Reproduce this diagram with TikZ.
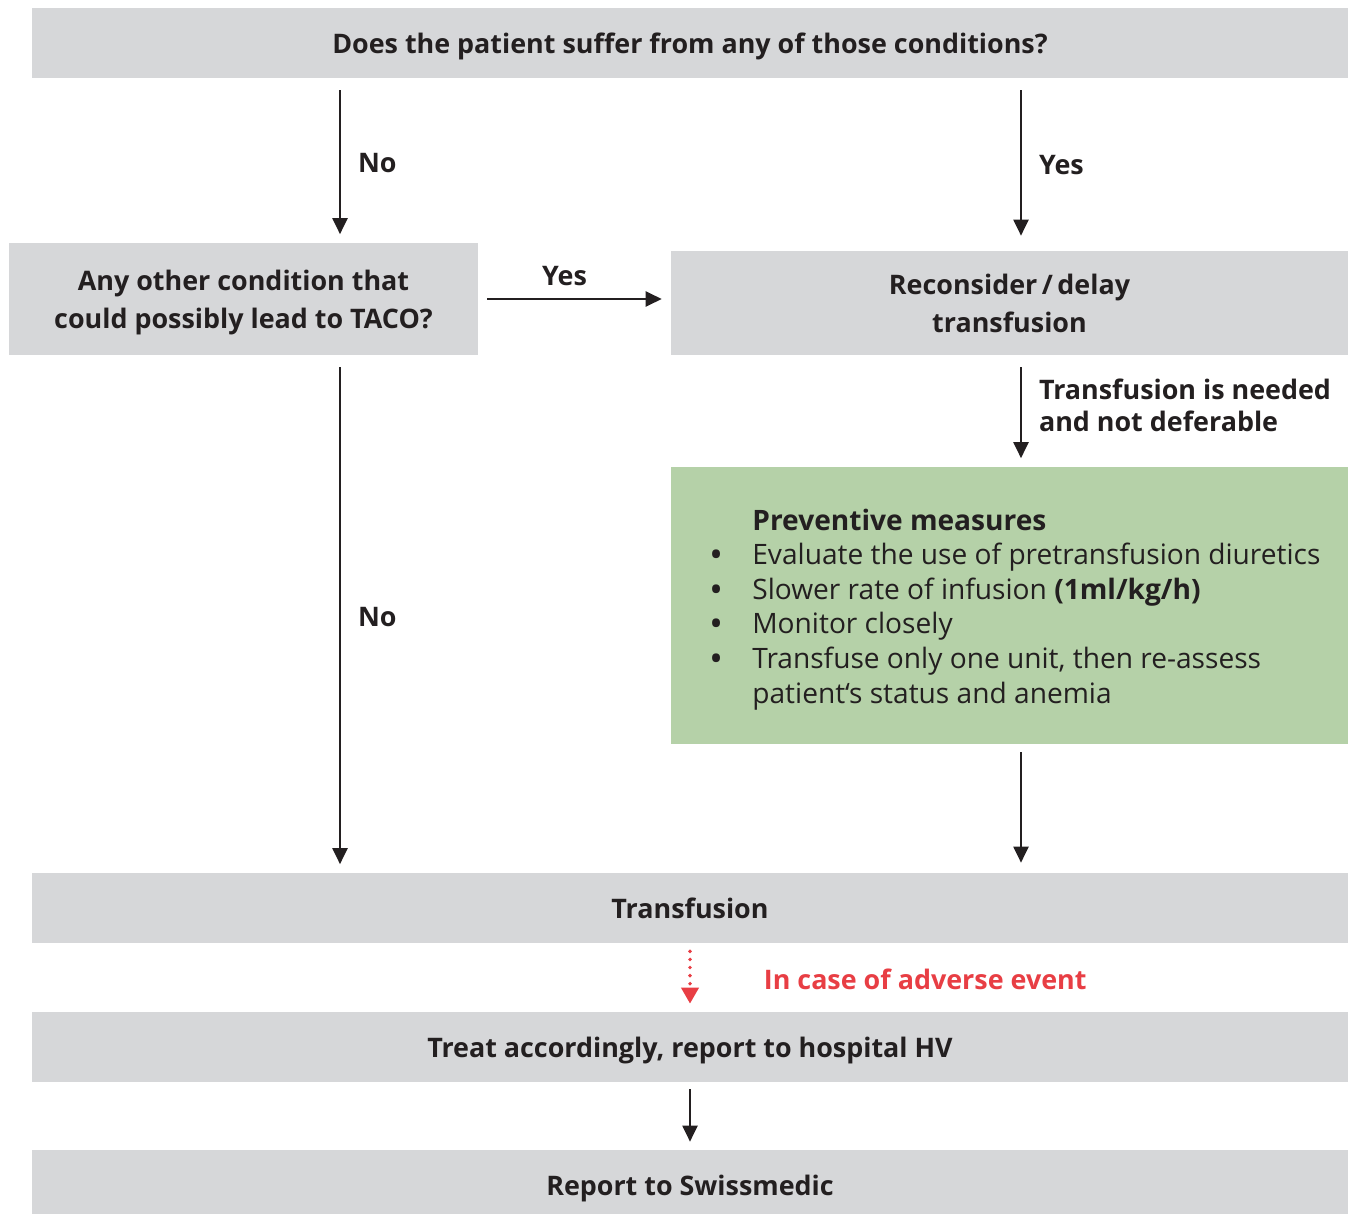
\documentclass[tikz,border=0pt]{standalone}
\usepackage{fontspec}
\setmainfont{Open Sans}
\usetikzlibrary{arrows.meta,positioning}

\definecolor{boxgray}{RGB}{214,215,217}
\definecolor{boxgreen}{RGB}{181,209,168}
\definecolor{txtblack}{RGB}{35,31,32}
\definecolor{alertred}{RGB}{232,62,68}

\newcommand{\bulletmark}{\llap{\textbf{\textbullet}\hspace{0.62cm}}}

\begin{document}
\begin{tikzpicture}[x=0.02cm, y=-0.02cm,
    box/.style={fill=boxgray, inner sep=0pt, align=center, text=txtblack, text depth=0pt,
      font=\fontsize{15.3}{21.4}\selectfont\bfseries},
    widebox/.style={box, minimum width=26.32cm, minimum height=1.4cm},
    gbox/.style={fill=boxgreen, inner sep=0pt, minimum width=13.54cm, minimum height=5.54cm},
    arr/.style={txtblack, line width=1.2pt, -{Triangle[length=0.32cm, width=0.3cm]},
      shorten <=0.24cm, shorten >=0.17cm},
    redarr/.style={alertred, line width=2.2pt, dash pattern=on 0pt off 4.6pt, line cap=round,
      -{Triangle[length=0.32cm, width=0.34cm, line cap=butt]},
      shorten <=0.16cm, shorten >=0.16cm},
    lab/.style={text=txtblack, inner sep=0pt, align=left, text depth=0pt,
      font=\fontsize{15.3}{18.1}\selectfont\bfseries}
  ]
  % Spalten der Pfeile
  \coordinate (lcol) at (340,0);
  \coordinate (rcol) at (1021,0);
  \coordinate (mcol) at (690,0);

  \useasboundingbox (0,0) rectangle (1350,1214);

  % Kaesten
  \node[widebox] (ask) at (690,43) {Does the patient suffer from any of those conditions?};
  \node[box, minimum width=9.38cm, minimum height=2.24cm] (other) at (243.5,299)
    {Any other condition that\\could possibly lead to TACO?};
  \node[box, minimum width=13.54cm, minimum height=2.08cm] (delay) at (1009.5,303)
    {Reconsider\,/\,delay\\transfusion};
  \node[gbox] (prev) at (1009.5,605.5) {};
  \node[anchor=west, inner sep=0pt, align=left, text=txtblack, text depth=0pt,
    font=\fontsize{16}{19.7}\selectfont] (prevtxt) at (752,606)
    {\textbf{Preventive measures}\\
     \bulletmark Evaluate the use of pretransfusion diuretics\\
     \bulletmark Slower rate of infusion \textbf{(1ml/kg/h)}\\
     \bulletmark Monitor closely\\
     \bulletmark Transfuse only one unit, then re-assess\\
     patient‘s status and anemia};
  \node[widebox] (trans) at (690,908) {Transfusion};
  \node[widebox] (treat) at (690,1047) {Treat accordingly, report to hospital HV};
  \node[widebox] (report) at (690,1185) {Report to Swissmedic};

  % Pfeile
  \draw[arr] (ask.south -| lcol) -- node[lab, right=0.34cm, yshift=-0.04cm] {No} (other.north -| lcol);
  \draw[arr, shorten >=0.3cm] (ask.south -| rcol) -- node[lab, right=0.34cm] {Yes} (delay.north -| rcol);
  \draw[arr, shorten <=0.18cm, shorten >=0.18cm] (other.east) -- node[lab, above=0.24cm, xshift=-0.2cm] {Yes}
    (other.east -| delay.west);
  \draw[arr] (other.south -| lcol) -- node[lab, right=0.34cm, yshift=-0.05cm] {No} (trans.north -| lcol);
  \draw[arr] (delay.south -| rcol) -- node[lab, right=0.34cm, yshift=0.12cm]
    {Transfusion is needed\\and not deferable} (prev.north -| rcol);
  \draw[arr, shorten <=0.16cm, shorten >=0.2cm] (prev.south -| rcol) -- (trans.north -| rcol);
  \draw[redarr] (trans.south -| mcol) -- node[lab, text=alertred, right=1.44cm, yshift=-0.03cm] {In case of adverse event}
    (treat.north -| mcol);
  \draw[arr, shorten <=0.14cm, shorten >=0.16cm] (treat.south -| mcol) -- (report.north -| mcol);
\end{tikzpicture}
\end{document}
